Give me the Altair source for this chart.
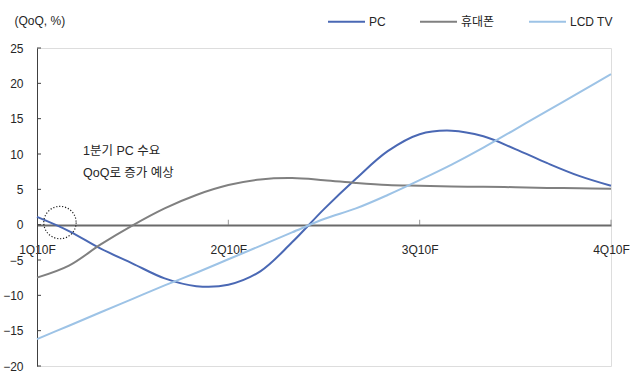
import altair as alt
import pandas as pd

quarters = ["1Q10F", "2Q10F", "3Q10F", "4Q10F"]
quarter_pos = [0, 1, 2, 3]
# sample positions (in quarters from 1Q10F)
t = [0.0, 0.167, 0.333, 0.5, 0.667, 0.833, 1.0, 1.167, 1.333, 1.5, 1.667,
     1.833, 2.0, 2.167, 2.333, 2.5, 2.667, 2.833, 3.0]
pc = [1.1, -0.9, -3.4, -5.5, -7.6, -8.7, -8.5, -6.6, -2.5, 2.2, 6.5,
      10.4, 12.8, 13.3, 12.5, 10.7, 8.7, 6.9, 5.5]
phone = [-7.5, -5.8, -2.8, -0.1, 2.3, 4.2, 5.6, 6.4, 6.6, 6.3, 5.9,
         5.6, 5.5, 5.4, 5.35, 5.3, 5.2, 5.15, 5.1]
lcd = [-16.2, -14.3, -12.4, -10.5, -8.6, -6.8, -4.9, -3.0, -1.1, 0.8, 2.3,
       4.2, 6.3, 8.5, 10.9, 13.5, 16.1, 18.7, 21.3]
series_names = ["PC", "휴대폰", "LCD TV"]
series_colors = ["#4a68b4", "#808080", "#9dc3e6"]
y_ticks = [-20, -15, -10, -5, 0, 5, 10, 15, 20, 25]
annot_lines = ["1분기 PC 수요", "QoQ로 증가 예상"]

FONT = "Liberation Sans, Noto Sans CJK KR"
TXT = "#262626"

rows = []
for name, vals in zip(series_names, [pc, phone, lcd]):
    for x, v in zip(t, vals):
        rows.append({"t": x, "v": v, "series": name})
df = pd.DataFrame(rows)

label_expr = "[" + ",".join("'%s'" % q for q in quarters) + "][datum.value]"

xscale = alt.Scale(domain=[0, 3], nice=False, zero=False)
yscale = alt.Scale(domain=[-20, 25], nice=False, zero=False)

x_axis = alt.Axis(values=quarter_pos, labelExpr=label_expr, title=None,
                  offset=-141, ticks=False, grid=False,
                  labelFlush=False, labelBound=False, labelPadding=19,
                  labelOverlap=False,
                  domainColor="#6a6a6a", domainWidth=2,
                  labelFont=FONT, labelFontSize=12, labelColor=TXT)
y_axis = alt.Axis(values=y_ticks, title="(QoQ, %)", titleAngle=0,
                  titleX=-23, titleY=-28, titleAlign="left",
                  titleBaseline="middle", titleFontWeight="normal",
                  titleFont=FONT, titleFontSize=12, titleColor=TXT,
                  ticks=False, grid=False, labelPadding=14,
                  labelOverlap=False,
                  domainColor="#404040", domainWidth=1,
                  labelFont=FONT, labelFontSize=12, labelColor=TXT)

lines = alt.Chart(df).mark_line(strokeWidth=2, interpolate="catmull-rom").encode(
    x=alt.X("t:Q", scale=xscale, axis=x_axis),
    y=alt.Y("v:Q", scale=yscale, axis=y_axis),
    color=alt.Color("series:N",
                    scale=alt.Scale(domain=series_names, range=series_colors),
                    legend=alt.Legend(orient="none", legendX=290, legendY=-46,
                                      direction="horizontal", title=None,
                                      symbolType="stroke", symbolStrokeWidth=2,
                                      symbolSize=1369, columnPadding=30,
                                      labelOffset=3, padding=0,
                                      labelFont=FONT, labelFontSize=12,
                                      labelColor=TXT)),
)

xticks = alt.Chart(pd.DataFrame({"q": quarter_pos[1:]})).mark_tick(
    orient="vertical", size=5, thickness=1, color="#6a6a6a", yOffset=-2.5
).encode(x=alt.X("q:Q", scale=xscale, axis=x_axis),
         y=alt.datum(0, scale=yscale, axis=y_axis))

yt = alt.Chart(pd.DataFrame({"y": y_ticks})).mark_rule(color="#404040", strokeWidth=1).encode(
    y=alt.Y("y:Q", scale=yscale, axis=y_axis), x=alt.value(0), x2=alt.value(4)
)

circle = alt.Chart(pd.DataFrame({"a": [0]})).mark_point(
    shape="circle", size=1050, filled=False, stroke="#222222", strokeWidth=1.2,
    strokeDash=[1.2, 1.8], opacity=1
).encode(x=alt.datum(0.12, scale=xscale, axis=x_axis),
         y=alt.datum(0.3, scale=yscale, axis=y_axis))

ann1 = alt.Chart(pd.DataFrame({"a": [0]})).mark_text(
    align="left", baseline="middle", font=FONT, fontSize=12.5, color=TXT
).encode(x=alt.value(46), y=alt.value(103), text=alt.value(annot_lines[0]))
ann2 = alt.Chart(pd.DataFrame({"a": [0]})).mark_text(
    align="left", baseline="middle", font=FONT, fontSize=12.5, color=TXT
).encode(x=alt.value(46), y=alt.value(125), text=alt.value(annot_lines[1]))

chart = alt.layer(lines, yt, xticks, circle, ann1, ann2).properties(
    width=574, height=318,
    autosize=alt.AutoSizeParams(type="none"),
    padding={"left": 37, "top": 48, "right": 19, "bottom": 10},
).configure_view(stroke=None).configure(background="white")

chart.save("out.html", embed_options={"renderer": "svg", "actions": False})
